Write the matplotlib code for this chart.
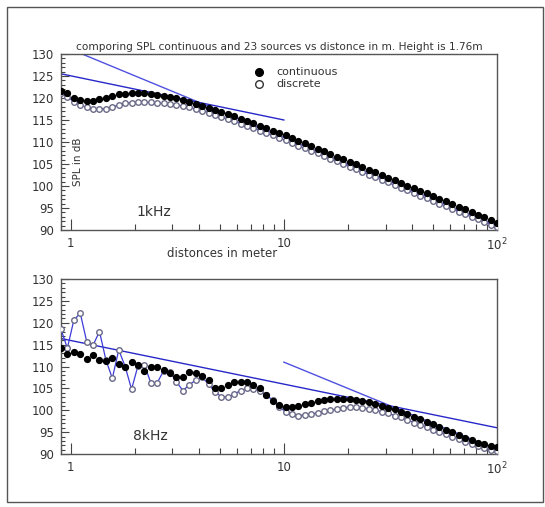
import matplotlib
matplotlib.use('Agg')
import matplotlib.pyplot as plt
from matplotlib.ticker import FixedLocator, MultipleLocator, NullFormatter
from matplotlib.patches import Rectangle

# distances (m) of the sample points
dist = [0.900, 0.964, 1.034, 1.108, 1.188, 1.273, 1.364, 1.462, 1.567, 1.680,
        1.800, 1.929, 2.068, 2.216, 2.375, 2.545, 2.728, 2.924, 3.133, 3.358,
        3.599, 3.857, 4.134, 4.431, 4.749, 5.089, 5.455, 5.846, 6.266, 6.715,
        7.197, 7.713, 8.267, 8.860, 9.497, 10.18, 10.91, 11.69, 12.53, 13.43,
        14.39, 15.43, 16.53, 17.72, 18.99, 20.36, 21.82, 23.38, 25.06, 26.86,
        28.79, 30.85, 33.07, 35.44, 37.98, 40.71, 43.63, 46.76, 50.12, 53.71,
        57.56, 61.69, 66.12, 70.86, 75.95, 81.40, 87.24, 93.50, 100.0]

# 1 kHz
cont_1k = [121.7, 121.1, 120.1, 119.5, 119.4, 119.4, 119.7, 120.1, 120.5, 120.8,
           121.0, 121.1, 121.1, 121.1, 120.9, 120.7, 120.5, 120.2, 119.9, 119.5,
           119.1, 118.7, 118.25, 117.8, 117.3, 116.8, 116.3, 115.8, 115.3, 114.8,
           114.3, 113.7, 113.2, 112.6, 112.1, 111.5, 110.9, 110.3, 109.7, 109.1,
           108.5, 107.9, 107.3, 106.7, 106.1, 105.5, 104.9, 104.3, 103.7, 103.1,
           102.5, 101.9, 101.3, 100.7, 100.1, 99.5, 98.9, 98.3, 97.7, 97.1,
           96.5, 95.9, 95.3, 94.7, 94.1, 93.5, 92.9, 92.3, 91.7]
disc_1k = [121.2, 120.3, 119.2, 118.4, 117.9, 117.5, 117.5, 117.6, 118.0, 118.4,
           118.8, 118.95, 119.0, 119.0, 119.0, 118.8, 118.8, 118.6, 118.4, 118.2,
           117.9, 117.5, 117.1, 116.7, 116.2, 115.7, 115.2, 114.7, 114.2, 113.7,
           113.1, 112.6, 112.0, 111.5, 110.9, 110.4, 109.8, 109.2, 108.6, 108.0,
           107.4, 106.8, 106.2, 105.6, 105.0, 104.4, 103.8, 103.2, 102.6, 102.0,
           101.4, 100.8, 100.2, 99.6, 99.0, 98.4, 97.8, 97.2, 96.6, 96.0,
           95.4, 94.8, 94.2, 93.6, 93.0, 92.4, 91.8, 91.2, 90.6]

# 8 kHz
cont_8k = [114.2, 112.8, 113.4, 112.9, 111.7, 112.6, 111.5, 111.3, 111.9, 110.5,
           110.0, 111.1, 110.3, 109.0, 109.8, 110.0, 109.2, 108.6, 107.7, 107.7,
           108.8, 108.6, 107.8, 106.9, 105.0, 105.2, 105.8, 106.4, 106.5, 106.5,
           105.8, 105.0, 103.6, 102.2, 101.2, 100.7, 100.7, 101.0, 101.4, 101.7,
           102.1, 102.3, 102.6, 102.6, 102.6, 102.6, 102.3, 102.1, 101.8, 101.4,
           101.0, 100.6, 100.2, 99.7, 99.1, 98.5, 97.9, 97.4, 96.9, 96.2,
           95.6, 95.0, 94.4, 93.7, 93.2, 92.6, 92.3, 91.9, 91.5]
disc_8k = [118.5, 114.2, 120.6, 122.2, 115.7, 114.9, 118.0, 111.5, 107.3, 113.8,
           110.0, 104.8, 110.2, 110.3, 106.3, 106.3, 109.0, 108.8, 106.5, 104.5,
           105.8, 106.9, 107.5, 106.0, 104.2, 103.1, 103.0, 103.7, 104.5, 105.0,
           104.9, 104.5, 103.5, 102.3, 100.8, 99.7, 99.1, 98.8, 98.9, 99.1,
           99.4, 99.8, 100.0, 100.3, 100.6, 100.7, 100.7, 100.6, 100.3, 100.0,
           99.7, 99.3, 98.8, 98.4, 97.8, 97.2, 96.7, 96.2, 95.6, 95.0,
           94.5, 94.0, 93.4, 92.8, 92.3, 91.8, 91.3, 90.9, 90.7]

# reference slopes (end points)
ref1_steep_x = [1.13, 100]
ref1_steep_y = [130.0, 91.0]
ref1_flat_x = [0.9, 10]
ref1_flat_y = [125.5, 115.0]
ref8_flat_x = [0.9, 100]
ref8_flat_y = [116.4, 96.0]
ref8_steep_x = [10, 100]
ref8_steep_y = [111.0, 91.0]

W, H = 545, 507
fig = plt.figure(figsize=(W / 100, H / 100), dpi=100)
fig.patch.set_facecolor('white')

# outer frame
fig.patches.append(Rectangle((7 / W, 1 - 502 / H), 536 / W, 495 / H,
                             transform=fig.transFigure, fill=False,
                             edgecolor='#555555', linewidth=1.0))

grey = '#444444'
blue = '#3c3cd8'


def setup(ax):
    ax.set_xscale('log')
    ax.set_xlim(0.9, 100)
    ax.set_ylim(90, 130)
    ax.xaxis.set_major_locator(FixedLocator([1, 10, 100]))
    ax.xaxis.set_minor_locator(FixedLocator([0.9] + [m * 10 ** e for e in (0, 1) for m in range(2, 10)]))
    ax.xaxis.set_minor_formatter(NullFormatter())
    ax.set_xticklabels(['1', '10', r'$10^2$'])
    ax.yaxis.set_major_locator(MultipleLocator(5))
    ax.yaxis.set_minor_locator(MultipleLocator(1))
    ax.tick_params(which='both', direction='in', top=False, right=False,
                   colors=grey, labelcolor='#333333', labelsize=8.5, width=0.8)
    ax.tick_params(axis='x', which='major', length=8, pad=5)
    ax.tick_params(axis='x', which='minor', length=4)
    ax.tick_params(axis='y', which='major', length=6, pad=5)
    ax.tick_params(axis='y', which='minor', length=3)
    for s in ax.spines.values():
        s.set_color('#555555')
        s.set_linewidth(1.0)


def draw(ax, cont, disc):
    ax.plot(dist, disc, '-', color=blue, lw=0.9, marker='o', ms=4.0,
            mfc='white', mec='#6a6a88', mew=1.0, zorder=3)
    ax.plot(dist, cont, 'o', color='black', ms=4.2, zorder=4)


ax1 = fig.add_axes([61 / W, 1 - 230 / H, 436 / W, 176 / H])
setup(ax1)
ax1.plot(ref1_steep_x, ref1_steep_y, color='#5050e0', lw=1.0, zorder=2)
ax1.plot(ref1_flat_x, ref1_flat_y, color='#2828c8', lw=1.0, zorder=2)
draw(ax1, cont_1k, disc_1k)
ax1.set_xlabel('distonces in meter', fontsize=8.5, color='#333333')
ax1.xaxis.set_label_coords(0.37, -0.095)
ax1.text(0.038, 0.39, 'SPL in dB', rotation=90, transform=ax1.transAxes,
         fontsize=7.5, color='#333333', ha='center', va='center')
ax1.text(0.174, 0.1, '1kHz', transform=ax1.transAxes, fontsize=10,
         color='#333333', ha='left', va='center')
ax1.set_title('comporing SPL continuous and 23 sources vs distonce in m. Height is 1.76m',
              fontsize=7.6, color='#333333', pad=3)

# legend
ax1.plot([0.454], [0.895], 'o', color='black', ms=5.5, transform=ax1.transAxes, clip_on=False)
ax1.plot([0.454], [0.83], 'o', mfc='white', mec='#333333', mew=1.0, ms=5.5,
         transform=ax1.transAxes, clip_on=False)
ax1.text(0.495, 0.895, 'continuous', transform=ax1.transAxes, fontsize=8,
         color='#333333', va='center')
ax1.text(0.495, 0.83, 'discrete', transform=ax1.transAxes, fontsize=8,
         color='#333333', va='center')

ax2 = fig.add_axes([61 / W, 1 - 454 / H, 436 / W, 175 / H])
setup(ax2)
ax2.plot(ref8_flat_x, ref8_flat_y, color='#2828c8', lw=1.0, zorder=2)
ax2.plot(ref8_steep_x, ref8_steep_y, color='#5050e0', lw=1.0, zorder=2)
draw(ax2, cont_8k, disc_8k)
ax2.text(0.165, 0.1, '8kHz', transform=ax2.transAxes, fontsize=10,
         color='#333333', ha='left', va='center')

fig.savefig('out.png', dpi=100)
